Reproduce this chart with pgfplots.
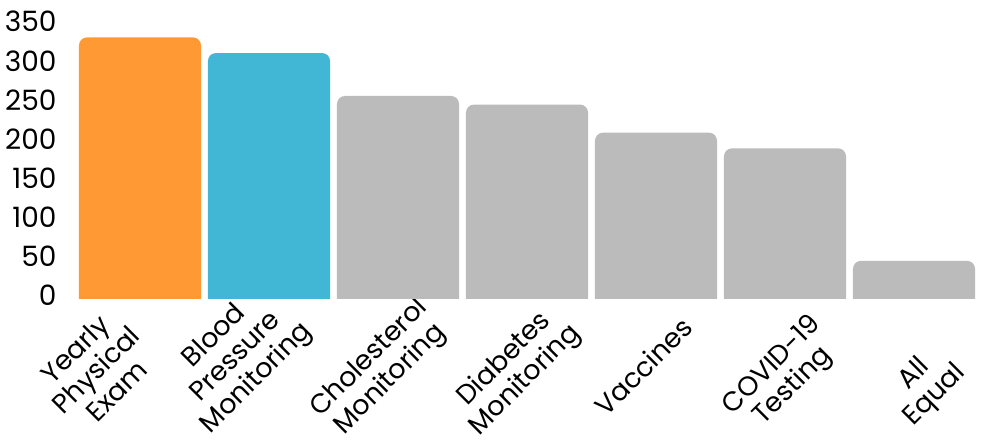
\documentclass[border=0pt]{standalone}
\usepackage{pgfplots}
\pgfplotsset{compat=1.18}
\usepackage{fontspec}
\setmainfont{Poppins}
\definecolor{cOrange}{HTML}{FF9933}
\definecolor{cBlue}{HTML}{42B7D5}
\definecolor{cGray}{HTML}{BBBBBB}
% rotated, per-label offset tick label: #1 = 2*u shift, #2 = vertical raise, #3 = lines
\newcommand{\lbl}[3]{\smash{\makebox[0pt]{\hspace*{#1}\raisebox{#2}{\begin{tabular}{@{}c@{}}#3\end{tabular}}}}}
\begin{document}
\begin{tikzpicture}
\useasboundingbox (-75.5pt,-143.7pt) rectangle (906.5pt,298.3pt);
\begin{axis}[
  at={(0,0)}, anchor=south west,
  scale only axis, width=903pt, height=273.4pt,
  xmin=-0.5, xmax=6.5, ymin=0, ymax=350,
  axis line style={draw=none},
  major tick length=0pt,
  ytick={0,50,...,350},
  xtick={0,1,2,3,4,5,6},
  xticklabels={
    {\lbl{-163.6pt}{-29.4pt}{Yearly\\Physical\\Exam}},
    {\lbl{-130.6pt}{-25.6pt}{Blood\\Pressure\\Monitoring}},
    {\lbl{-125.4pt}{-44.3pt}{Cholesterol\\Monitoring}},
    {\lbl{-118.4pt}{-49.3pt}{Diabetes\\Monitoring}},
    {\lbl{-114.2pt}{-49.9pt}{Vaccines}},
    {\lbl{-112.8pt}{-60.5pt}{COVID-19\\Testing}},
    {\lbl{-107pt}{-76.1pt}{All\\Equal}}
  },
  yticklabel style={font=\fontsize{28}{30}\selectfont, text=black},
  xticklabel style={font=\fontsize{27}{29.5}\selectfont, text=black},
  /pgf/number format/assume math mode=true,
  yticklabel style={anchor=east, inner sep=0pt, xshift=-18.8pt, yshift=3.2pt},
  xticklabel style={anchor=center, inner sep=0pt, rotate=45},
  clip=true,
]
% each bar: rounded outline from its value down below the baseline (clipped at 0)
\addplot[fill=cOrange, draw=none, rounded corners=8pt] coordinates {(-0.473,-30) (-0.473,334) (0.473,334) (0.473,-30)} -- cycle;
\addplot[fill=cBlue, draw=none, rounded corners=8pt] coordinates {(0.527,-30) (0.527,314) (1.473,314) (1.473,-30)} -- cycle;
\addplot[fill=cGray, draw=none, rounded corners=8pt] coordinates {(1.527,-30) (1.527,259) (2.473,259) (2.473,-30)} -- cycle;
\addplot[fill=cGray, draw=none, rounded corners=8pt] coordinates {(2.527,-30) (2.527,248) (3.473,248) (3.473,-30)} -- cycle;
\addplot[fill=cGray, draw=none, rounded corners=8pt] coordinates {(3.527,-30) (3.527,212) (4.473,212) (4.473,-30)} -- cycle;
\addplot[fill=cGray, draw=none, rounded corners=8pt] coordinates {(4.527,-30) (4.527,192) (5.473,192) (5.473,-30)} -- cycle;
\addplot[fill=cGray, draw=none, rounded corners=8pt] coordinates {(5.527,-30) (5.527,48) (6.473,48) (6.473,-30)} -- cycle;
\end{axis}
\end{tikzpicture}
\end{document}
